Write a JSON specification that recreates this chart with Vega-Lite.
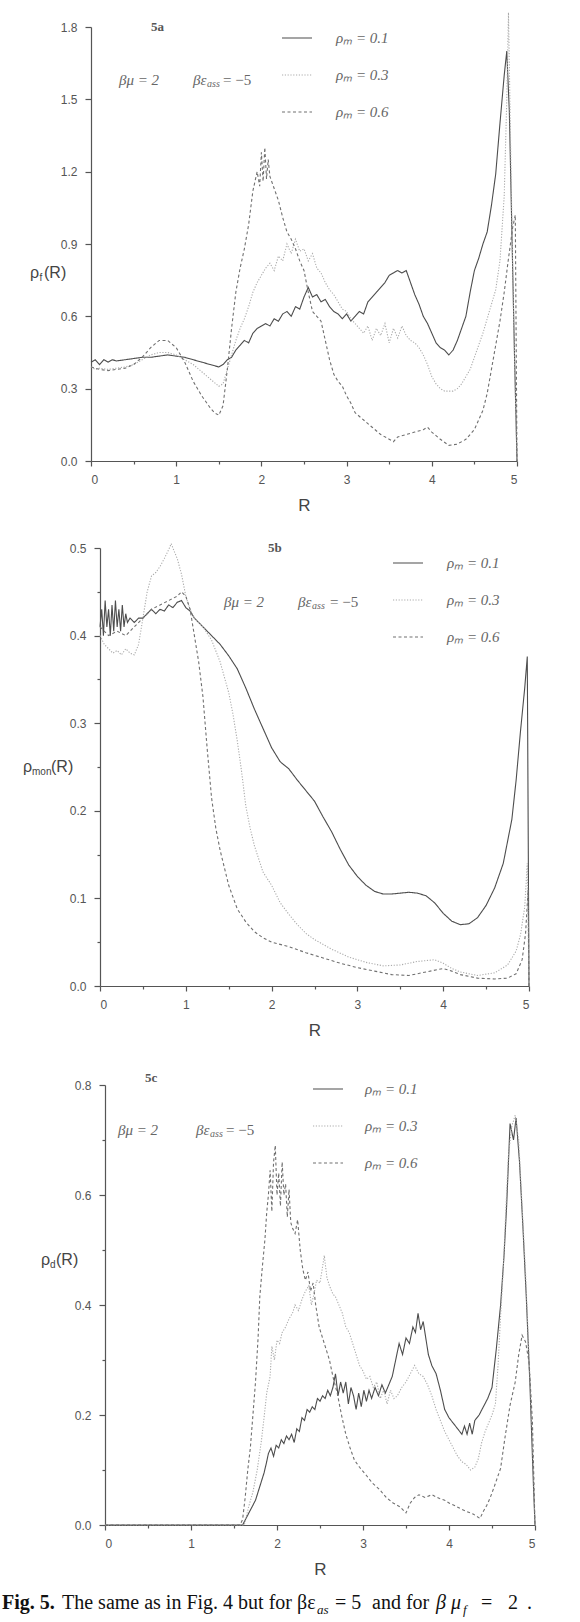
{
"$schema": "https://vega.github.io/schema/vega-lite/v6.json",
"padding": {"left": 2, "top": 10, "right": 0, "bottom": 0},
"background": "white",
"bounds": "flush",
"spacing": 87,
"config": {
 "view": {"stroke": null},
 "axis": {"domainColor": "#555", "tickColor": "#555", "labelColor": "#555", "labelFont": "Liberation Sans", "labelFontSize": 12, "grid": false, "domainWidth": 1.2, "tickWidth": 1.2, "titleFont": "Liberation Sans", "titleFontWeight": "normal", "titleColor": "#444", "labelOverlap": false},
 "legend": {"orient": "none", "title": null, "symbolType": "stroke", "symbolSize": 900, "symbolStrokeWidth": 1.1, "labelFont": "Liberation Serif", "labelFontStyle": "italic", "labelFontSize": 15, "labelColor": "#666", "rowPadding": 13, "padding": 0}
},
"resolve": {"scale": {"x": "independent", "y": "independent", "color": "independent", "strokeDash": "independent"}, "legend": {"color": "independent", "strokeDash": "independent"}},
"datasets": {
"a": [
{"m":"0.1","R":0,"v":0.41},{"m":"0.1","R":0.05,"v":0.42},{"m":"0.1","R":0.1,"v":0.4},{"m":"0.1","R":0.15,"v":0.42},{"m":"0.1","R":0.2,"v":0.41},{"m":"0.1","R":0.25,"v":0.42},{"m":"0.1","R":0.3,"v":0.415},{"m":"0.1","R":0.4,"v":0.42},{"m":"0.1","R":0.5,"v":0.425},{"m":"0.1","R":0.6,"v":0.43},{"m":"0.1","R":0.7,"v":0.43},{"m":"0.1","R":0.8,"v":0.435},{"m":"0.1","R":0.9,"v":0.44},{"m":"0.1","R":1.0,"v":0.435},{"m":"0.1","R":1.1,"v":0.43},{"m":"0.1","R":1.2,"v":0.42},{"m":"0.1","R":1.3,"v":0.41},{"m":"0.1","R":1.4,"v":0.4},{"m":"0.1","R":1.5,"v":0.39},{"m":"0.1","R":1.55,"v":0.4},{"m":"0.1","R":1.6,"v":0.42},{"m":"0.1","R":1.65,"v":0.43},{"m":"0.1","R":1.7,"v":0.46},{"m":"0.1","R":1.75,"v":0.48},{"m":"0.1","R":1.8,"v":0.5},{"m":"0.1","R":1.85,"v":0.49},{"m":"0.1","R":1.9,"v":0.53},{"m":"0.1","R":1.95,"v":0.55},{"m":"0.1","R":2.0,"v":0.56},{"m":"0.1","R":2.05,"v":0.57},{"m":"0.1","R":2.1,"v":0.56},{"m":"0.1","R":2.15,"v":0.59},{"m":"0.1","R":2.2,"v":0.58},{"m":"0.1","R":2.25,"v":0.61},{"m":"0.1","R":2.3,"v":0.62},{"m":"0.1","R":2.35,"v":0.6},{"m":"0.1","R":2.4,"v":0.64},{"m":"0.1","R":2.45,"v":0.63},{"m":"0.1","R":2.5,"v":0.68},{"m":"0.1","R":2.55,"v":0.72},{"m":"0.1","R":2.6,"v":0.68},{"m":"0.1","R":2.65,"v":0.69},{"m":"0.1","R":2.7,"v":0.66},{"m":"0.1","R":2.75,"v":0.67},{"m":"0.1","R":2.8,"v":0.64},{"m":"0.1","R":2.85,"v":0.62},{"m":"0.1","R":2.9,"v":0.61},{"m":"0.1","R":2.95,"v":0.59},{"m":"0.1","R":3.0,"v":0.61},{"m":"0.1","R":3.05,"v":0.58},{"m":"0.1","R":3.1,"v":0.6},{"m":"0.1","R":3.15,"v":0.62},{"m":"0.1","R":3.2,"v":0.61},{"m":"0.1","R":3.25,"v":0.66},{"m":"0.1","R":3.3,"v":0.68},{"m":"0.1","R":3.35,"v":0.7},{"m":"0.1","R":3.4,"v":0.72},{"m":"0.1","R":3.45,"v":0.74},{"m":"0.1","R":3.5,"v":0.77},{"m":"0.1","R":3.55,"v":0.78},{"m":"0.1","R":3.6,"v":0.79},{"m":"0.1","R":3.65,"v":0.78},{"m":"0.1","R":3.7,"v":0.79},{"m":"0.1","R":3.75,"v":0.74},{"m":"0.1","R":3.8,"v":0.69},{"m":"0.1","R":3.85,"v":0.65},{"m":"0.1","R":3.9,"v":0.6},{"m":"0.1","R":3.95,"v":0.57},{"m":"0.1","R":4.0,"v":0.53},{"m":"0.1","R":4.05,"v":0.49},{"m":"0.1","R":4.1,"v":0.47},{"m":"0.1","R":4.15,"v":0.46},{"m":"0.1","R":4.2,"v":0.44},{"m":"0.1","R":4.25,"v":0.46},{"m":"0.1","R":4.3,"v":0.5},{"m":"0.1","R":4.35,"v":0.55},{"m":"0.1","R":4.4,"v":0.6},{"m":"0.1","R":4.45,"v":0.7},{"m":"0.1","R":4.5,"v":0.79},{"m":"0.1","R":4.55,"v":0.84},{"m":"0.1","R":4.6,"v":0.9},{"m":"0.1","R":4.65,"v":0.95},{"m":"0.1","R":4.7,"v":1.06},{"m":"0.1","R":4.75,"v":1.19},{"m":"0.1","R":4.8,"v":1.4},{"m":"0.1","R":4.85,"v":1.6},{"m":"0.1","R":4.88,"v":1.7},{"m":"0.1","R":4.91,"v":1.45},{"m":"0.1","R":4.94,"v":0.95},{"m":"0.1","R":4.97,"v":0.45},{"m":"0.1","R":5.0,"v":0},
{"m":"0.3","R":0,"v":0.39},{"m":"0.3","R":0.05,"v":0.38},{"m":"0.3","R":0.1,"v":0.385},{"m":"0.3","R":0.2,"v":0.38},{"m":"0.3","R":0.3,"v":0.385},{"m":"0.3","R":0.4,"v":0.39},{"m":"0.3","R":0.5,"v":0.4},{"m":"0.3","R":0.6,"v":0.42},{"m":"0.3","R":0.7,"v":0.44},{"m":"0.3","R":0.8,"v":0.45},{"m":"0.3","R":0.9,"v":0.45},{"m":"0.3","R":1.0,"v":0.44},{"m":"0.3","R":1.1,"v":0.42},{"m":"0.3","R":1.2,"v":0.4},{"m":"0.3","R":1.3,"v":0.37},{"m":"0.3","R":1.4,"v":0.34},{"m":"0.3","R":1.5,"v":0.31},{"m":"0.3","R":1.55,"v":0.32},{"m":"0.3","R":1.6,"v":0.38},{"m":"0.3","R":1.65,"v":0.44},{"m":"0.3","R":1.7,"v":0.5},{"m":"0.3","R":1.75,"v":0.55},{"m":"0.3","R":1.8,"v":0.59},{"m":"0.3","R":1.85,"v":0.64},{"m":"0.3","R":1.9,"v":0.7},{"m":"0.3","R":1.95,"v":0.74},{"m":"0.3","R":2.0,"v":0.77},{"m":"0.3","R":2.05,"v":0.8},{"m":"0.3","R":2.1,"v":0.82},{"m":"0.3","R":2.15,"v":0.79},{"m":"0.3","R":2.2,"v":0.85},{"m":"0.3","R":2.25,"v":0.83},{"m":"0.3","R":2.3,"v":0.9},{"m":"0.3","R":2.35,"v":0.86},{"m":"0.3","R":2.4,"v":0.92},{"m":"0.3","R":2.45,"v":0.87},{"m":"0.3","R":2.5,"v":0.88},{"m":"0.3","R":2.55,"v":0.83},{"m":"0.3","R":2.6,"v":0.86},{"m":"0.3","R":2.65,"v":0.8},{"m":"0.3","R":2.7,"v":0.78},{"m":"0.3","R":2.75,"v":0.74},{"m":"0.3","R":2.8,"v":0.71},{"m":"0.3","R":2.85,"v":0.69},{"m":"0.3","R":2.9,"v":0.66},{"m":"0.3","R":2.95,"v":0.63},{"m":"0.3","R":3.0,"v":0.62},{"m":"0.3","R":3.05,"v":0.59},{"m":"0.3","R":3.1,"v":0.57},{"m":"0.3","R":3.15,"v":0.55},{"m":"0.3","R":3.2,"v":0.53},{"m":"0.3","R":3.25,"v":0.56},{"m":"0.3","R":3.3,"v":0.5},{"m":"0.3","R":3.35,"v":0.55},{"m":"0.3","R":3.4,"v":0.52},{"m":"0.3","R":3.45,"v":0.57},{"m":"0.3","R":3.5,"v":0.49},{"m":"0.3","R":3.55,"v":0.55},{"m":"0.3","R":3.6,"v":0.51},{"m":"0.3","R":3.65,"v":0.56},{"m":"0.3","R":3.7,"v":0.52},{"m":"0.3","R":3.75,"v":0.5},{"m":"0.3","R":3.8,"v":0.49},{"m":"0.3","R":3.85,"v":0.47},{"m":"0.3","R":3.9,"v":0.44},{"m":"0.3","R":3.95,"v":0.4},{"m":"0.3","R":4.0,"v":0.35},{"m":"0.3","R":4.05,"v":0.32},{"m":"0.3","R":4.1,"v":0.3},{"m":"0.3","R":4.15,"v":0.29},{"m":"0.3","R":4.2,"v":0.29},{"m":"0.3","R":4.25,"v":0.29},{"m":"0.3","R":4.3,"v":0.3},{"m":"0.3","R":4.35,"v":0.32},{"m":"0.3","R":4.4,"v":0.35},{"m":"0.3","R":4.45,"v":0.38},{"m":"0.3","R":4.5,"v":0.43},{"m":"0.3","R":4.55,"v":0.48},{"m":"0.3","R":4.6,"v":0.53},{"m":"0.3","R":4.65,"v":0.59},{"m":"0.3","R":4.7,"v":0.65},{"m":"0.3","R":4.75,"v":0.71},{"m":"0.3","R":4.8,"v":0.83},{"m":"0.3","R":4.85,"v":1.1},{"m":"0.3","R":4.88,"v":1.5},{"m":"0.3","R":4.9,"v":1.86},{"m":"0.3","R":4.93,"v":1.2},{"m":"0.3","R":4.96,"v":0.6},{"m":"0.3","R":5.0,"v":0},
{"m":"0.6","R":0,"v":0.39},{"m":"0.6","R":0.1,"v":0.38},{"m":"0.6","R":0.2,"v":0.375},{"m":"0.6","R":0.3,"v":0.38},{"m":"0.6","R":0.4,"v":0.385},{"m":"0.6","R":0.5,"v":0.4},{"m":"0.6","R":0.6,"v":0.43},{"m":"0.6","R":0.7,"v":0.47},{"m":"0.6","R":0.8,"v":0.5},{"m":"0.6","R":0.9,"v":0.5},{"m":"0.6","R":1.0,"v":0.47},{"m":"0.6","R":1.1,"v":0.41},{"m":"0.6","R":1.2,"v":0.33},{"m":"0.6","R":1.3,"v":0.27},{"m":"0.6","R":1.4,"v":0.22},{"m":"0.6","R":1.45,"v":0.2},{"m":"0.6","R":1.5,"v":0.19},{"m":"0.6","R":1.55,"v":0.23},{"m":"0.6","R":1.6,"v":0.38},{"m":"0.6","R":1.65,"v":0.55},{"m":"0.6","R":1.7,"v":0.7},{"m":"0.6","R":1.75,"v":0.8},{"m":"0.6","R":1.8,"v":0.88},{"m":"0.6","R":1.85,"v":0.98},{"m":"0.6","R":1.9,"v":1.12},{"m":"0.6","R":1.95,"v":1.2},{"m":"0.6","R":1.98,"v":1.14},{"m":"0.6","R":2.0,"v":1.28},{"m":"0.6","R":2.02,"v":1.16},{"m":"0.6","R":2.04,"v":1.3},{"m":"0.6","R":2.06,"v":1.17},{"m":"0.6","R":2.08,"v":1.25},{"m":"0.6","R":2.1,"v":1.18},{"m":"0.6","R":2.15,"v":1.13},{"m":"0.6","R":2.2,"v":1.08},{"m":"0.6","R":2.25,"v":1.01},{"m":"0.6","R":2.3,"v":0.95},{"m":"0.6","R":2.35,"v":0.92},{"m":"0.6","R":2.4,"v":0.88},{"m":"0.6","R":2.45,"v":0.83},{"m":"0.6","R":2.5,"v":0.79},{"m":"0.6","R":2.55,"v":0.7},{"m":"0.6","R":2.6,"v":0.62},{"m":"0.6","R":2.65,"v":0.6},{"m":"0.6","R":2.7,"v":0.58},{"m":"0.6","R":2.75,"v":0.5},{"m":"0.6","R":2.8,"v":0.42},{"m":"0.6","R":2.85,"v":0.36},{"m":"0.6","R":2.9,"v":0.33},{"m":"0.6","R":2.95,"v":0.31},{"m":"0.6","R":3.0,"v":0.27},{"m":"0.6","R":3.05,"v":0.24},{"m":"0.6","R":3.1,"v":0.2},{"m":"0.6","R":3.2,"v":0.17},{"m":"0.6","R":3.3,"v":0.14},{"m":"0.6","R":3.4,"v":0.11},{"m":"0.6","R":3.5,"v":0.09},{"m":"0.6","R":3.55,"v":0.08},{"m":"0.6","R":3.6,"v":0.1},{"m":"0.6","R":3.7,"v":0.11},{"m":"0.6","R":3.8,"v":0.12},{"m":"0.6","R":3.9,"v":0.13},{"m":"0.6","R":3.95,"v":0.14},{"m":"0.6","R":4.0,"v":0.12},{"m":"0.6","R":4.1,"v":0.09},{"m":"0.6","R":4.2,"v":0.065},{"m":"0.6","R":4.3,"v":0.07},{"m":"0.6","R":4.4,"v":0.09},{"m":"0.6","R":4.5,"v":0.13},{"m":"0.6","R":4.6,"v":0.21},{"m":"0.6","R":4.65,"v":0.28},{"m":"0.6","R":4.7,"v":0.38},{"m":"0.6","R":4.75,"v":0.48},{"m":"0.6","R":4.8,"v":0.58},{"m":"0.6","R":4.85,"v":0.7},{"m":"0.6","R":4.9,"v":0.84},{"m":"0.6","R":4.95,"v":0.97},{"m":"0.6","R":4.98,"v":1.02},{"m":"0.6","R":5.0,"v":0}
],
"b": [
{"m":"0.1","R":0,"v":0.41},{"m":"0.1","R":0.02,"v":0.43},{"m":"0.1","R":0.04,"v":0.4},{"m":"0.1","R":0.06,"v":0.44},{"m":"0.1","R":0.08,"v":0.41},{"m":"0.1","R":0.1,"v":0.43},{"m":"0.1","R":0.12,"v":0.4},{"m":"0.1","R":0.14,"v":0.435},{"m":"0.1","R":0.16,"v":0.405},{"m":"0.1","R":0.18,"v":0.44},{"m":"0.1","R":0.2,"v":0.41},{"m":"0.1","R":0.22,"v":0.43},{"m":"0.1","R":0.24,"v":0.405},{"m":"0.1","R":0.26,"v":0.435},{"m":"0.1","R":0.28,"v":0.41},{"m":"0.1","R":0.3,"v":0.425},{"m":"0.1","R":0.32,"v":0.415},{"m":"0.1","R":0.35,"v":0.42},{"m":"0.1","R":0.4,"v":0.415},{"m":"0.1","R":0.45,"v":0.42},{"m":"0.1","R":0.5,"v":0.42},{"m":"0.1","R":0.55,"v":0.425},{"m":"0.1","R":0.6,"v":0.43},{"m":"0.1","R":0.65,"v":0.425},{"m":"0.1","R":0.7,"v":0.43},{"m":"0.1","R":0.75,"v":0.428},{"m":"0.1","R":0.8,"v":0.435},{"m":"0.1","R":0.85,"v":0.432},{"m":"0.1","R":0.9,"v":0.438},{"m":"0.1","R":0.95,"v":0.44},{"m":"0.1","R":1.0,"v":0.432},{"m":"0.1","R":1.05,"v":0.428},{"m":"0.1","R":1.1,"v":0.42},{"m":"0.1","R":1.2,"v":0.41},{"m":"0.1","R":1.3,"v":0.4},{"m":"0.1","R":1.4,"v":0.39},{"m":"0.1","R":1.5,"v":0.377},{"m":"0.1","R":1.6,"v":0.362},{"m":"0.1","R":1.7,"v":0.34},{"m":"0.1","R":1.8,"v":0.316},{"m":"0.1","R":1.9,"v":0.294},{"m":"0.1","R":2.0,"v":0.272},{"m":"0.1","R":2.1,"v":0.256},{"m":"0.1","R":2.2,"v":0.248},{"m":"0.1","R":2.3,"v":0.235},{"m":"0.1","R":2.4,"v":0.223},{"m":"0.1","R":2.5,"v":0.211},{"m":"0.1","R":2.6,"v":0.193},{"m":"0.1","R":2.7,"v":0.176},{"m":"0.1","R":2.8,"v":0.156},{"m":"0.1","R":2.9,"v":0.138},{"m":"0.1","R":3.0,"v":0.125},{"m":"0.1","R":3.1,"v":0.115},{"m":"0.1","R":3.2,"v":0.108},{"m":"0.1","R":3.3,"v":0.105},{"m":"0.1","R":3.4,"v":0.105},{"m":"0.1","R":3.5,"v":0.106},{"m":"0.1","R":3.6,"v":0.107},{"m":"0.1","R":3.7,"v":0.106},{"m":"0.1","R":3.8,"v":0.103},{"m":"0.1","R":3.9,"v":0.095},{"m":"0.1","R":4.0,"v":0.083},{"m":"0.1","R":4.1,"v":0.074},{"m":"0.1","R":4.2,"v":0.07},{"m":"0.1","R":4.3,"v":0.071},{"m":"0.1","R":4.4,"v":0.078},{"m":"0.1","R":4.5,"v":0.092},{"m":"0.1","R":4.6,"v":0.112},{"m":"0.1","R":4.7,"v":0.14},{"m":"0.1","R":4.8,"v":0.19},{"m":"0.1","R":4.85,"v":0.235},{"m":"0.1","R":4.9,"v":0.29},{"m":"0.1","R":4.95,"v":0.34},{"m":"0.1","R":4.98,"v":0.376},{"m":"0.1","R":5.0,"v":0},
{"m":"0.3","R":0,"v":0.4},{"m":"0.3","R":0.05,"v":0.39},{"m":"0.3","R":0.1,"v":0.385},{"m":"0.3","R":0.15,"v":0.38},{"m":"0.3","R":0.2,"v":0.383},{"m":"0.3","R":0.25,"v":0.378},{"m":"0.3","R":0.3,"v":0.385},{"m":"0.3","R":0.35,"v":0.38},{"m":"0.3","R":0.4,"v":0.378},{"m":"0.3","R":0.45,"v":0.39},{"m":"0.3","R":0.5,"v":0.42},{"m":"0.3","R":0.55,"v":0.45},{"m":"0.3","R":0.6,"v":0.468},{"m":"0.3","R":0.65,"v":0.472},{"m":"0.3","R":0.7,"v":0.479},{"m":"0.3","R":0.75,"v":0.488},{"m":"0.3","R":0.8,"v":0.498},{"m":"0.3","R":0.83,"v":0.505},{"m":"0.3","R":0.87,"v":0.495},{"m":"0.3","R":0.9,"v":0.488},{"m":"0.3","R":0.95,"v":0.47},{"m":"0.3","R":1.0,"v":0.445},{"m":"0.3","R":1.05,"v":0.43},{"m":"0.3","R":1.1,"v":0.42},{"m":"0.3","R":1.2,"v":0.41},{"m":"0.3","R":1.3,"v":0.395},{"m":"0.3","R":1.4,"v":0.37},{"m":"0.3","R":1.5,"v":0.335},{"m":"0.3","R":1.55,"v":0.31},{"m":"0.3","R":1.6,"v":0.28},{"m":"0.3","R":1.65,"v":0.245},{"m":"0.3","R":1.7,"v":0.205},{"m":"0.3","R":1.75,"v":0.18},{"m":"0.3","R":1.8,"v":0.16},{"m":"0.3","R":1.9,"v":0.13},{"m":"0.3","R":2.0,"v":0.115},{"m":"0.3","R":2.1,"v":0.095},{"m":"0.3","R":2.2,"v":0.082},{"m":"0.3","R":2.3,"v":0.07},{"m":"0.3","R":2.4,"v":0.06},{"m":"0.3","R":2.5,"v":0.053},{"m":"0.3","R":2.7,"v":0.042},{"m":"0.3","R":2.9,"v":0.033},{"m":"0.3","R":3.1,"v":0.027},{"m":"0.3","R":3.3,"v":0.023},{"m":"0.3","R":3.5,"v":0.024},{"m":"0.3","R":3.7,"v":0.028},{"m":"0.3","R":3.9,"v":0.03},{"m":"0.3","R":4.0,"v":0.026},{"m":"0.3","R":4.1,"v":0.02},{"m":"0.3","R":4.2,"v":0.016},{"m":"0.3","R":4.4,"v":0.012},{"m":"0.3","R":4.6,"v":0.015},{"m":"0.3","R":4.75,"v":0.024},{"m":"0.3","R":4.85,"v":0.04},{"m":"0.3","R":4.9,"v":0.058},{"m":"0.3","R":4.95,"v":0.09},{"m":"0.3","R":4.98,"v":0.14},{"m":"0.3","R":5.0,"v":0},
{"m":"0.6","R":0,"v":0.41},{"m":"0.6","R":0.1,"v":0.4},{"m":"0.6","R":0.2,"v":0.405},{"m":"0.6","R":0.3,"v":0.4},{"m":"0.6","R":0.4,"v":0.41},{"m":"0.6","R":0.5,"v":0.42},{"m":"0.6","R":0.6,"v":0.43},{"m":"0.6","R":0.7,"v":0.435},{"m":"0.6","R":0.8,"v":0.44},{"m":"0.6","R":0.9,"v":0.445},{"m":"0.6","R":0.95,"v":0.45},{"m":"0.6","R":1.0,"v":0.445},{"m":"0.6","R":1.05,"v":0.43},{"m":"0.6","R":1.1,"v":0.4},{"m":"0.6","R":1.15,"v":0.37},{"m":"0.6","R":1.2,"v":0.33},{"m":"0.6","R":1.25,"v":0.27},{"m":"0.6","R":1.3,"v":0.215},{"m":"0.6","R":1.35,"v":0.18},{"m":"0.6","R":1.4,"v":0.155},{"m":"0.6","R":1.45,"v":0.135},{"m":"0.6","R":1.5,"v":0.115},{"m":"0.6","R":1.6,"v":0.088},{"m":"0.6","R":1.7,"v":0.073},{"m":"0.6","R":1.8,"v":0.062},{"m":"0.6","R":1.9,"v":0.055},{"m":"0.6","R":2.0,"v":0.05},{"m":"0.6","R":2.2,"v":0.045},{"m":"0.6","R":2.4,"v":0.038},{"m":"0.6","R":2.6,"v":0.032},{"m":"0.6","R":2.8,"v":0.026},{"m":"0.6","R":3.0,"v":0.021},{"m":"0.6","R":3.2,"v":0.017},{"m":"0.6","R":3.4,"v":0.013},{"m":"0.6","R":3.6,"v":0.012},{"m":"0.6","R":3.8,"v":0.016},{"m":"0.6","R":4.0,"v":0.02},{"m":"0.6","R":4.1,"v":0.017},{"m":"0.6","R":4.2,"v":0.013},{"m":"0.6","R":4.4,"v":0.009},{"m":"0.6","R":4.6,"v":0.008},{"m":"0.6","R":4.75,"v":0.009},{"m":"0.6","R":4.85,"v":0.014},{"m":"0.6","R":4.92,"v":0.03},{"m":"0.6","R":4.96,"v":0.06},{"m":"0.6","R":4.99,"v":0.11},{"m":"0.6","R":5.0,"v":0}
],
"c": [
{"m":"0.1","R":0,"v":0},{"m":"0.1","R":1.6,"v":0},{"m":"0.1","R":1.65,"v":0.015},{"m":"0.1","R":1.7,"v":0.03},{"m":"0.1","R":1.75,"v":0.045},{"m":"0.1","R":1.8,"v":0.07},{"m":"0.1","R":1.85,"v":0.095},{"m":"0.1","R":1.88,"v":0.115},{"m":"0.1","R":1.9,"v":0.13},{"m":"0.1","R":1.93,"v":0.14},{"m":"0.1","R":1.96,"v":0.125},{"m":"0.1","R":1.99,"v":0.145},{"m":"0.1","R":2.02,"v":0.14},{"m":"0.1","R":2.05,"v":0.155},{"m":"0.1","R":2.08,"v":0.148},{"m":"0.1","R":2.11,"v":0.162},{"m":"0.1","R":2.14,"v":0.155},{"m":"0.1","R":2.17,"v":0.165},{"m":"0.1","R":2.2,"v":0.15},{"m":"0.1","R":2.23,"v":0.175},{"m":"0.1","R":2.26,"v":0.17},{"m":"0.1","R":2.29,"v":0.195},{"m":"0.1","R":2.32,"v":0.19},{"m":"0.1","R":2.35,"v":0.21},{"m":"0.1","R":2.38,"v":0.205},{"m":"0.1","R":2.41,"v":0.215},{"m":"0.1","R":2.44,"v":0.21},{"m":"0.1","R":2.47,"v":0.23},{"m":"0.1","R":2.5,"v":0.225},{"m":"0.1","R":2.53,"v":0.235},{"m":"0.1","R":2.56,"v":0.23},{"m":"0.1","R":2.59,"v":0.245},{"m":"0.1","R":2.62,"v":0.235},{"m":"0.1","R":2.65,"v":0.25},{"m":"0.1","R":2.68,"v":0.275},{"m":"0.1","R":2.71,"v":0.235},{"m":"0.1","R":2.74,"v":0.26},{"m":"0.1","R":2.77,"v":0.24},{"m":"0.1","R":2.8,"v":0.26},{"m":"0.1","R":2.83,"v":0.22},{"m":"0.1","R":2.86,"v":0.25},{"m":"0.1","R":2.89,"v":0.235},{"m":"0.1","R":2.92,"v":0.21},{"m":"0.1","R":2.95,"v":0.24},{"m":"0.1","R":2.98,"v":0.215},{"m":"0.1","R":3.01,"v":0.245},{"m":"0.1","R":3.04,"v":0.225},{"m":"0.1","R":3.07,"v":0.245},{"m":"0.1","R":3.1,"v":0.23},{"m":"0.1","R":3.14,"v":0.25},{"m":"0.1","R":3.18,"v":0.235},{"m":"0.1","R":3.22,"v":0.255},{"m":"0.1","R":3.26,"v":0.24},{"m":"0.1","R":3.3,"v":0.255},{"m":"0.1","R":3.34,"v":0.27},{"m":"0.1","R":3.38,"v":0.3},{"m":"0.1","R":3.42,"v":0.33},{"m":"0.1","R":3.46,"v":0.31},{"m":"0.1","R":3.5,"v":0.34},{"m":"0.1","R":3.54,"v":0.33},{"m":"0.1","R":3.58,"v":0.36},{"m":"0.1","R":3.61,"v":0.35},{"m":"0.1","R":3.64,"v":0.385},{"m":"0.1","R":3.67,"v":0.355},{"m":"0.1","R":3.7,"v":0.37},{"m":"0.1","R":3.73,"v":0.34},{"m":"0.1","R":3.76,"v":0.31},{"m":"0.1","R":3.8,"v":0.29},{"m":"0.1","R":3.85,"v":0.275},{"m":"0.1","R":3.9,"v":0.245},{"m":"0.1","R":3.95,"v":0.21},{"m":"0.1","R":4.0,"v":0.195},{"m":"0.1","R":4.05,"v":0.185},{"m":"0.1","R":4.1,"v":0.175},{"m":"0.1","R":4.15,"v":0.165},{"m":"0.1","R":4.18,"v":0.18},{"m":"0.1","R":4.21,"v":0.165},{"m":"0.1","R":4.24,"v":0.185},{"m":"0.1","R":4.27,"v":0.165},{"m":"0.1","R":4.3,"v":0.19},{"m":"0.1","R":4.35,"v":0.2},{"m":"0.1","R":4.4,"v":0.215},{"m":"0.1","R":4.45,"v":0.23},{"m":"0.1","R":4.5,"v":0.25},{"m":"0.1","R":4.55,"v":0.32},{"m":"0.1","R":4.6,"v":0.4},{"m":"0.1","R":4.64,"v":0.49},{"m":"0.1","R":4.67,"v":0.58},{"m":"0.1","R":4.71,"v":0.73},{"m":"0.1","R":4.75,"v":0.7},{"m":"0.1","R":4.78,"v":0.74},{"m":"0.1","R":4.82,"v":0.66},{"m":"0.1","R":4.86,"v":0.54},{"m":"0.1","R":4.9,"v":0.41},{"m":"0.1","R":4.94,"v":0.26},{"m":"0.1","R":4.98,"v":0.08},{"m":"0.1","R":5.0,"v":0},
{"m":"0.3","R":0,"v":0},{"m":"0.3","R":1.62,"v":0},{"m":"0.3","R":1.67,"v":0.033},{"m":"0.3","R":1.72,"v":0.06},{"m":"0.3","R":1.77,"v":0.1},{"m":"0.3","R":1.82,"v":0.155},{"m":"0.3","R":1.86,"v":0.21},{"m":"0.3","R":1.88,"v":0.24},{"m":"0.3","R":1.92,"v":0.27},{"m":"0.3","R":1.94,"v":0.325},{"m":"0.3","R":1.97,"v":0.3},{"m":"0.3","R":2.0,"v":0.336},{"m":"0.3","R":2.03,"v":0.33},{"m":"0.3","R":2.06,"v":0.35},{"m":"0.3","R":2.1,"v":0.36},{"m":"0.3","R":2.14,"v":0.375},{"m":"0.3","R":2.18,"v":0.385},{"m":"0.3","R":2.21,"v":0.4},{"m":"0.3","R":2.25,"v":0.39},{"m":"0.3","R":2.29,"v":0.41},{"m":"0.3","R":2.33,"v":0.425},{"m":"0.3","R":2.37,"v":0.435},{"m":"0.3","R":2.4,"v":0.4},{"m":"0.3","R":2.43,"v":0.42},{"m":"0.3","R":2.46,"v":0.445},{"m":"0.3","R":2.5,"v":0.44},{"m":"0.3","R":2.53,"v":0.47},{"m":"0.3","R":2.55,"v":0.49},{"m":"0.3","R":2.58,"v":0.45},{"m":"0.3","R":2.61,"v":0.435},{"m":"0.3","R":2.65,"v":0.42},{"m":"0.3","R":2.68,"v":0.415},{"m":"0.3","R":2.72,"v":0.4},{"m":"0.3","R":2.76,"v":0.385},{"m":"0.3","R":2.8,"v":0.36},{"m":"0.3","R":2.84,"v":0.35},{"m":"0.3","R":2.88,"v":0.33},{"m":"0.3","R":2.92,"v":0.31},{"m":"0.3","R":2.96,"v":0.29},{"m":"0.3","R":3.0,"v":0.28},{"m":"0.3","R":3.04,"v":0.265},{"m":"0.3","R":3.08,"v":0.27},{"m":"0.3","R":3.12,"v":0.25},{"m":"0.3","R":3.16,"v":0.26},{"m":"0.3","R":3.2,"v":0.23},{"m":"0.3","R":3.24,"v":0.245},{"m":"0.3","R":3.28,"v":0.22},{"m":"0.3","R":3.32,"v":0.245},{"m":"0.3","R":3.36,"v":0.23},{"m":"0.3","R":3.4,"v":0.235},{"m":"0.3","R":3.45,"v":0.25},{"m":"0.3","R":3.5,"v":0.26},{"m":"0.3","R":3.55,"v":0.275},{"m":"0.3","R":3.6,"v":0.29},{"m":"0.3","R":3.65,"v":0.275},{"m":"0.3","R":3.7,"v":0.27},{"m":"0.3","R":3.75,"v":0.255},{"m":"0.3","R":3.8,"v":0.235},{"m":"0.3","R":3.85,"v":0.21},{"m":"0.3","R":3.9,"v":0.19},{"m":"0.3","R":3.95,"v":0.17},{"m":"0.3","R":4.0,"v":0.155},{"m":"0.3","R":4.05,"v":0.14},{"m":"0.3","R":4.1,"v":0.125},{"m":"0.3","R":4.15,"v":0.115},{"m":"0.3","R":4.2,"v":0.11},{"m":"0.3","R":4.25,"v":0.1},{"m":"0.3","R":4.3,"v":0.105},{"m":"0.3","R":4.34,"v":0.12},{"m":"0.3","R":4.38,"v":0.15},{"m":"0.3","R":4.42,"v":0.17},{"m":"0.3","R":4.46,"v":0.185},{"m":"0.3","R":4.5,"v":0.2},{"m":"0.3","R":4.54,"v":0.22},{"m":"0.3","R":4.57,"v":0.29},{"m":"0.3","R":4.6,"v":0.38},{"m":"0.3","R":4.63,"v":0.46},{"m":"0.3","R":4.66,"v":0.57},{"m":"0.3","R":4.69,"v":0.67},{"m":"0.3","R":4.73,"v":0.725},{"m":"0.3","R":4.77,"v":0.745},{"m":"0.3","R":4.81,"v":0.7},{"m":"0.3","R":4.85,"v":0.58},{"m":"0.3","R":4.89,"v":0.46},{"m":"0.3","R":4.93,"v":0.31},{"m":"0.3","R":4.97,"v":0.16},{"m":"0.3","R":5.0,"v":0},
{"m":"0.6","R":0,"v":0},{"m":"0.6","R":1.57,"v":0},{"m":"0.6","R":1.6,"v":0.01},{"m":"0.6","R":1.63,"v":0.05},{"m":"0.6","R":1.66,"v":0.1},{"m":"0.6","R":1.69,"v":0.14},{"m":"0.6","R":1.72,"v":0.2},{"m":"0.6","R":1.75,"v":0.26},{"m":"0.6","R":1.78,"v":0.34},{"m":"0.6","R":1.8,"v":0.415},{"m":"0.6","R":1.83,"v":0.47},{"m":"0.6","R":1.86,"v":0.52},{"m":"0.6","R":1.88,"v":0.567},{"m":"0.6","R":1.9,"v":0.6},{"m":"0.6","R":1.92,"v":0.645},{"m":"0.6","R":1.94,"v":0.57},{"m":"0.6","R":1.96,"v":0.66},{"m":"0.6","R":1.98,"v":0.69},{"m":"0.6","R":2.0,"v":0.6},{"m":"0.6","R":2.02,"v":0.64},{"m":"0.6","R":2.04,"v":0.58},{"m":"0.6","R":2.06,"v":0.66},{"m":"0.6","R":2.08,"v":0.6},{"m":"0.6","R":2.1,"v":0.62},{"m":"0.6","R":2.12,"v":0.56},{"m":"0.6","R":2.14,"v":0.61},{"m":"0.6","R":2.16,"v":0.55},{"m":"0.6","R":2.18,"v":0.54},{"m":"0.6","R":2.21,"v":0.53},{"m":"0.6","R":2.24,"v":0.555},{"m":"0.6","R":2.27,"v":0.5},{"m":"0.6","R":2.3,"v":0.465},{"m":"0.6","R":2.33,"v":0.445},{"m":"0.6","R":2.36,"v":0.46},{"m":"0.6","R":2.39,"v":0.425},{"m":"0.6","R":2.42,"v":0.44},{"m":"0.6","R":2.45,"v":0.4},{"m":"0.6","R":2.49,"v":0.36},{"m":"0.6","R":2.53,"v":0.34},{"m":"0.6","R":2.57,"v":0.32},{"m":"0.6","R":2.61,"v":0.3},{"m":"0.6","R":2.65,"v":0.27},{"m":"0.6","R":2.7,"v":0.24},{"m":"0.6","R":2.75,"v":0.2},{"m":"0.6","R":2.8,"v":0.165},{"m":"0.6","R":2.85,"v":0.14},{"m":"0.6","R":2.9,"v":0.118},{"m":"0.6","R":2.96,"v":0.105},{"m":"0.6","R":3.04,"v":0.09},{"m":"0.6","R":3.11,"v":0.076},{"m":"0.6","R":3.19,"v":0.065},{"m":"0.6","R":3.27,"v":0.05},{"m":"0.6","R":3.35,"v":0.04},{"m":"0.6","R":3.43,"v":0.033},{"m":"0.6","R":3.5,"v":0.022},{"m":"0.6","R":3.55,"v":0.04},{"m":"0.6","R":3.6,"v":0.05},{"m":"0.6","R":3.65,"v":0.055},{"m":"0.6","R":3.72,"v":0.05},{"m":"0.6","R":3.8,"v":0.055},{"m":"0.6","R":3.89,"v":0.048},{"m":"0.6","R":3.95,"v":0.045},{"m":"0.6","R":4.01,"v":0.039},{"m":"0.6","R":4.07,"v":0.035},{"m":"0.6","R":4.13,"v":0.03},{"m":"0.6","R":4.2,"v":0.025},{"m":"0.6","R":4.28,"v":0.02},{"m":"0.6","R":4.36,"v":0.012},{"m":"0.6","R":4.4,"v":0.025},{"m":"0.6","R":4.44,"v":0.036},{"m":"0.6","R":4.48,"v":0.05},{"m":"0.6","R":4.52,"v":0.067},{"m":"0.6","R":4.56,"v":0.085},{"m":"0.6","R":4.6,"v":0.103},{"m":"0.6","R":4.65,"v":0.158},{"m":"0.6","R":4.71,"v":0.218},{"m":"0.6","R":4.77,"v":0.26},{"m":"0.6","R":4.81,"v":0.309},{"m":"0.6","R":4.85,"v":0.345},{"m":"0.6","R":4.89,"v":0.333},{"m":"0.6","R":4.93,"v":0.297},{"m":"0.6","R":4.97,"v":0.188},{"m":"0.6","R":5.0,"v":0}
]
},
"vconcat": [
{
 "width": 426, "height": 434,
 "layer": [
  {"data": {"name": "a"}, "mark": {"type": "line", "strokeWidth": 1.1},
   "encoding": {
    "x": {"field": "R", "type": "quantitative", "scale": {"domain": [0, 5], "range": [0, 426], "nice": false}, "axis": {"values": [0,0.5,1,1.5,2,2.5,3,3.5,4,4.5,5], "labelExpr": "datum.value % 1 == 0 ? format(datum.value, 'd') : ''", "tickSize": {"condition": {"test": "datum.value % 1 == 0", "value": 5}, "value": 3}, "labelPadding": 8, "title": "R", "titleFontSize": 17, "titlePadding": 12}},
    "y": {"field": "v", "type": "quantitative", "scale": {"domain": [0, 1.8], "nice": false}, "axis": {"values": [0,0.15,0.3,0.45,0.6,0.75,0.9,1.05,1.2,1.35,1.5,1.65,1.8], "labelExpr": "round(datum.value*100) % 30 == 0 ? format(datum.value, '.1f') : ''", "tickSize": {"condition": {"test": "round(datum.value*100) % 30 == 0", "value": 6}, "value": 3}, "labelPadding": 8, "title": null}},
    "color": {"field": "m", "type": "nominal", "scale": {"domain": ["0.1","0.3","0.6"], "range": ["#4d4d4d","#ababab","#707070"]}, "legend": {"legendX": 190, "legendY": -5, "labelOffset": 23, "labelExpr": "'ρₘ = ' + datum.label"}},
    "strokeDash": {"field": "m", "type": "nominal", "scale": {"domain": ["0.1","0.3","0.6"], "range": [[1,0],[1.2,1.6],[3,2.5]]}, "legend": {"legendX": 190, "legendY": -5, "labelOffset": 23, "labelExpr": "'ρₘ = ' + datum.label"}}
   }},
  {"data": {"values": [{}]}, "mark": {"type": "text", "align": "left", "baseline": "middle", "dx": -61, "font": "Liberation Sans", "fontSize": 16, "fill": "#444"}, "encoding": {"x": {"datum": 0}, "y": {"datum": 0.78}, "text": {"value": "ρ"}}},
  {"data": {"values": [{}]}, "mark": {"type": "text", "align": "left", "baseline": "middle", "dx": -51.5, "dy": 5, "font": "Liberation Sans", "fontSize": 10, "fill": "#444"}, "encoding": {"x": {"datum": 0}, "y": {"datum": 0.78}, "text": {"value": "f"}}},
  {"data": {"values": [{}]}, "mark": {"type": "text", "align": "left", "baseline": "middle", "dx": -47, "font": "Liberation Sans", "fontSize": 16, "fill": "#444"}, "encoding": {"x": {"datum": 0}, "y": {"datum": 0.78}, "text": {"value": "(R)"}}},
  {"data": {"values": [{}]}, "mark": {"type": "text", "align": "left", "baseline": "middle", "dx": 60, "font": "Liberation Serif", "fontWeight": "bold", "fontSize": 13, "fill": "#555"}, "encoding": {"x": {"datum": 0}, "y": {"datum": 1.8}, "text": {"value": "5a"}}},
  {"data": {"values": [{}]}, "mark": {"type": "text", "align": "left", "baseline": "middle", "dx": 28, "font": "Liberation Serif", "fontStyle": "italic", "fontSize": 15, "fill": "#666"}, "encoding": {"x": {"datum": 0}, "y": {"datum": 1.58}, "text": {"value": "βμ = 2"}}},
  {"data": {"values": [{}]}, "mark": {"type": "text", "align": "left", "baseline": "middle", "dx": 102, "font": "Liberation Serif", "fontStyle": "italic", "fontSize": 15, "fill": "#666"}, "encoding": {"x": {"datum": 0}, "y": {"datum": 1.58}, "text": {"value": "βε"}}},
  {"data": {"values": [{}]}, "mark": {"type": "text", "align": "left", "baseline": "middle", "dx": 116, "dy": 4, "font": "Liberation Serif", "fontStyle": "italic", "fontSize": 10, "fill": "#666"}, "encoding": {"x": {"datum": 0}, "y": {"datum": 1.58}, "text": {"value": "ass"}}},
  {"data": {"values": [{}]}, "mark": {"type": "text", "align": "left", "baseline": "middle", "dx": 132, "font": "Liberation Serif", "fontSize": 15, "fill": "#666"}, "encoding": {"x": {"datum": 0}, "y": {"datum": 1.58}, "text": {"value": "= −5"}}}
 ]
},
{
 "width": 438, "height": 438,
 "layer": [
  {"data": {"name": "b"}, "mark": {"type": "line", "strokeWidth": 1.1},
   "encoding": {
    "x": {"field": "R", "type": "quantitative", "scale": {"domain": [0, 5], "range": [9, 438], "nice": false}, "axis": {"values": [0,0.5,1,1.5,2,2.5,3,3.5,4,4.5,5], "labelExpr": "datum.value % 1 == 0 ? format(datum.value, 'd') : ''", "tickSize": {"condition": {"test": "datum.value % 1 == 0", "value": 5}, "value": 3}, "labelPadding": 8, "title": "R", "titleFontSize": 17, "titlePadding": 12}},
    "y": {"field": "v", "type": "quantitative", "scale": {"domain": [0, 0.5], "nice": false}, "axis": {"offset": -9, "values": [0,0.05,0.1,0.15,0.2,0.25,0.3,0.35,0.4,0.45,0.5], "labelExpr": "round(datum.value*100) % 10 == 0 ? format(datum.value, '.1f') : ''", "tickSize": {"condition": {"test": "round(datum.value*100) % 10 == 0", "value": 6}, "value": 3}, "labelPadding": 8, "title": null}},
    "color": {"field": "m", "type": "nominal", "scale": {"domain": ["0.1","0.3","0.6"], "range": ["#4d4d4d","#ababab","#707070"]}, "legend": {"legendX": 301, "legendY": -1, "labelOffset": 23, "labelExpr": "'ρₘ = ' + datum.label"}},
    "strokeDash": {"field": "m", "type": "nominal", "scale": {"domain": ["0.1","0.3","0.6"], "range": [[1,0],[1.2,1.6],[3,2.5]]}, "legend": {"legendX": 301, "legendY": -1, "labelOffset": 23, "labelExpr": "'ρₘ = ' + datum.label"}}
   }},
  {"data": {"values": [{}]}, "mark": {"type": "text", "align": "left", "baseline": "middle", "dx": -77, "font": "Liberation Sans", "fontSize": 16, "fill": "#444"}, "encoding": {"x": {"datum": 0}, "y": {"datum": 0.25}, "text": {"value": "ρ"}}},
  {"data": {"values": [{}]}, "mark": {"type": "text", "align": "left", "baseline": "middle", "dx": -68, "dy": 5, "font": "Liberation Sans", "fontSize": 10, "fill": "#444"}, "encoding": {"x": {"datum": 0}, "y": {"datum": 0.25}, "text": {"value": "mon"}}},
  {"data": {"values": [{}]}, "mark": {"type": "text", "align": "left", "baseline": "middle", "dx": -49, "font": "Liberation Sans", "fontSize": 16, "fill": "#444"}, "encoding": {"x": {"datum": 0}, "y": {"datum": 0.25}, "text": {"value": "(R)"}}},
  {"data": {"values": [{}]}, "mark": {"type": "text", "align": "left", "baseline": "middle", "dx": 168, "font": "Liberation Serif", "fontWeight": "bold", "fontSize": 13, "fill": "#555"}, "encoding": {"x": {"datum": 0}, "y": {"datum": 0.5}, "text": {"value": "5b"}}},
  {"data": {"values": [{}]}, "mark": {"type": "text", "align": "left", "baseline": "middle", "dx": 124, "font": "Liberation Serif", "fontStyle": "italic", "fontSize": 15, "fill": "#666"}, "encoding": {"x": {"datum": 0}, "y": {"datum": 0.438}, "text": {"value": "βμ = 2"}}},
  {"data": {"values": [{}]}, "mark": {"type": "text", "align": "left", "baseline": "middle", "dx": 198, "font": "Liberation Serif", "fontStyle": "italic", "fontSize": 15, "fill": "#666"}, "encoding": {"x": {"datum": 0}, "y": {"datum": 0.438}, "text": {"value": "βε"}}},
  {"data": {"values": [{}]}, "mark": {"type": "text", "align": "left", "baseline": "middle", "dx": 212, "dy": 4, "font": "Liberation Serif", "fontStyle": "italic", "fontSize": 10, "fill": "#666"}, "encoding": {"x": {"datum": 0}, "y": {"datum": 0.438}, "text": {"value": "ass"}}},
  {"data": {"values": [{}]}, "mark": {"type": "text", "align": "left", "baseline": "middle", "dx": 230, "font": "Liberation Serif", "fontSize": 15, "fill": "#666"}, "encoding": {"x": {"datum": 0}, "y": {"datum": 0.438}, "text": {"value": "= −5"}}}
 ]
},
{
 "width": 444, "height": 452,
 "layer": [
  {"data": {"name": "c"}, "mark": {"type": "line", "strokeWidth": 1.1},
   "encoding": {
    "x": {"field": "R", "type": "quantitative", "scale": {"domain": [0, 5], "range": [14, 444], "nice": false}, "axis": {"values": [0,0.5,1,1.5,2,2.5,3,3.5,4,4.5,5], "labelExpr": "datum.value % 1 == 0 ? format(datum.value, 'd') : ''", "tickSize": {"condition": {"test": "datum.value % 1 == 0", "value": 5}, "value": 3}, "labelPadding": 8, "title": "R", "titleFontSize": 17, "titlePadding": 12}},
    "y": {"field": "v", "type": "quantitative", "scale": {"domain": [0, 0.8], "range": [452, 12], "nice": false}, "axis": {"offset": -14, "values": [0,0.1,0.2,0.3,0.4,0.5,0.6,0.7,0.8], "labelExpr": "round(datum.value*10) % 2 == 0 ? format(datum.value, '.1f') : ''", "tickSize": {"condition": {"test": "round(datum.value*10) % 2 == 0", "value": 6}, "value": 3}, "labelPadding": 8, "title": null}},
    "color": {"field": "m", "type": "nominal", "scale": {"domain": ["0.1","0.3","0.6"], "range": ["#4d4d4d","#ababab","#707070"]}, "legend": {"legendX": 221, "legendY": 0, "labelOffset": 21, "labelExpr": "'ρₘ = ' + datum.label"}},
    "strokeDash": {"field": "m", "type": "nominal", "scale": {"domain": ["0.1","0.3","0.6"], "range": [[1,0],[1.2,1.6],[3,2.5]]}, "legend": {"legendX": 221, "legendY": 0, "labelOffset": 21, "labelExpr": "'ρₘ = ' + datum.label"}}
   }},
  {"data": {"values": [{}]}, "mark": {"type": "text", "align": "left", "baseline": "middle", "dx": -64, "font": "Liberation Sans", "fontSize": 16, "fill": "#444"}, "encoding": {"x": {"datum": 0}, "y": {"datum": 0.482}, "text": {"value": "ρ"}}},
  {"data": {"values": [{}]}, "mark": {"type": "text", "align": "left", "baseline": "middle", "dx": -55, "dy": 5, "font": "Liberation Sans", "fontSize": 10, "fill": "#444"}, "encoding": {"x": {"datum": 0}, "y": {"datum": 0.482}, "text": {"value": "d"}}},
  {"data": {"values": [{}]}, "mark": {"type": "text", "align": "left", "baseline": "middle", "dx": -49, "font": "Liberation Sans", "fontSize": 16, "fill": "#444"}, "encoding": {"x": {"datum": 0}, "y": {"datum": 0.482}, "text": {"value": "(R)"}}},
  {"data": {"values": [{}]}, "mark": {"type": "text", "align": "left", "baseline": "middle", "dx": 40, "font": "Liberation Serif", "fontWeight": "bold", "fontSize": 13, "fill": "#555"}, "encoding": {"x": {"datum": 0}, "y": {"datum": 0.813}, "text": {"value": "5c"}}},
  {"data": {"values": [{}]}, "mark": {"type": "text", "align": "left", "baseline": "middle", "dx": 13, "font": "Liberation Serif", "fontStyle": "italic", "fontSize": 15, "fill": "#666"}, "encoding": {"x": {"datum": 0}, "y": {"datum": 0.718}, "text": {"value": "βμ = 2"}}},
  {"data": {"values": [{}]}, "mark": {"type": "text", "align": "left", "baseline": "middle", "dx": 91, "font": "Liberation Serif", "fontStyle": "italic", "fontSize": 15, "fill": "#666"}, "encoding": {"x": {"datum": 0}, "y": {"datum": 0.718}, "text": {"value": "βε"}}},
  {"data": {"values": [{}]}, "mark": {"type": "text", "align": "left", "baseline": "middle", "dx": 105, "dy": 4, "font": "Liberation Serif", "fontStyle": "italic", "fontSize": 10, "fill": "#666"}, "encoding": {"x": {"datum": 0}, "y": {"datum": 0.718}, "text": {"value": "ass"}}},
  {"data": {"values": [{}]}, "mark": {"type": "text", "align": "left", "baseline": "middle", "dx": 121, "font": "Liberation Serif", "fontSize": 15, "fill": "#666"}, "encoding": {"x": {"datum": 0}, "y": {"datum": 0.718}, "text": {"value": "= −5"}}},
  {"data": {"values": [{}]}, "mark": {"type": "text", "align": "left", "baseline": "alphabetic", "dx": -103, "dy": 84, "font": "Liberation Serif", "fontWeight": "bold", "fontSize": 20, "fill": "#111"}, "encoding": {"x": {"datum": 0}, "y": {"datum": 0}, "text": {"value": "Fig. 5."}}},
  {"data": {"values": [{}]}, "mark": {"type": "text", "align": "left", "baseline": "alphabetic", "dx": -43, "dy": 84, "font": "Liberation Serif", "fontSize": 20, "fill": "#111"}, "encoding": {"x": {"datum": 0}, "y": {"datum": 0}, "text": {"value": "The same as in Fig. 4 but for βε"}}},
  {"data": {"values": [{}]}, "mark": {"type": "text", "align": "left", "baseline": "alphabetic", "dx": 212, "dy": 89, "font": "Liberation Serif", "fontStyle": "italic", "fontSize": 13, "fill": "#111"}, "encoding": {"x": {"datum": 0}, "y": {"datum": 0}, "text": {"value": "as"}}},
  {"data": {"values": [{}]}, "mark": {"type": "text", "align": "left", "baseline": "alphabetic", "dx": 230, "dy": 84, "font": "Liberation Serif", "fontSize": 20, "fill": "#111"}, "encoding": {"x": {"datum": 0}, "y": {"datum": 0}, "text": {"value": "= 5"}}},
  {"data": {"values": [{}]}, "mark": {"type": "text", "align": "left", "baseline": "alphabetic", "dx": 267, "dy": 84, "font": "Liberation Serif", "fontSize": 20, "fill": "#111"}, "encoding": {"x": {"datum": 0}, "y": {"datum": 0}, "text": {"value": "and for"}}},
  {"data": {"values": [{}]}, "mark": {"type": "text", "align": "left", "baseline": "alphabetic", "dx": 331, "dy": 84, "font": "Liberation Serif", "fontStyle": "italic", "fontSize": 20, "fill": "#111"}, "encoding": {"x": {"datum": 0}, "y": {"datum": 0}, "text": {"value": "β μ"}}},
  {"data": {"values": [{}]}, "mark": {"type": "text", "align": "left", "baseline": "alphabetic", "dx": 358, "dy": 89, "font": "Liberation Serif", "fontStyle": "italic", "fontSize": 13, "fill": "#111"}, "encoding": {"x": {"datum": 0}, "y": {"datum": 0}, "text": {"value": "f"}}},
  {"data": {"values": [{}]}, "mark": {"type": "text", "align": "left", "baseline": "alphabetic", "dx": 376, "dy": 84, "font": "Liberation Serif", "fontSize": 20, "fill": "#111"}, "encoding": {"x": {"datum": 0}, "y": {"datum": 0}, "text": {"value": "="}}},
  {"data": {"values": [{}]}, "mark": {"type": "text", "align": "left", "baseline": "alphabetic", "dx": 403, "dy": 84, "font": "Liberation Serif", "fontSize": 20, "fill": "#111"}, "encoding": {"x": {"datum": 0}, "y": {"datum": 0}, "text": {"value": "2"}}},
  {"data": {"values": [{}]}, "mark": {"type": "text", "align": "left", "baseline": "alphabetic", "dx": 422, "dy": 84, "font": "Liberation Serif", "fontSize": 20, "fill": "#111"}, "encoding": {"x": {"datum": 0}, "y": {"datum": 0}, "text": {"value": "."}}}
 ]
}
]
}
